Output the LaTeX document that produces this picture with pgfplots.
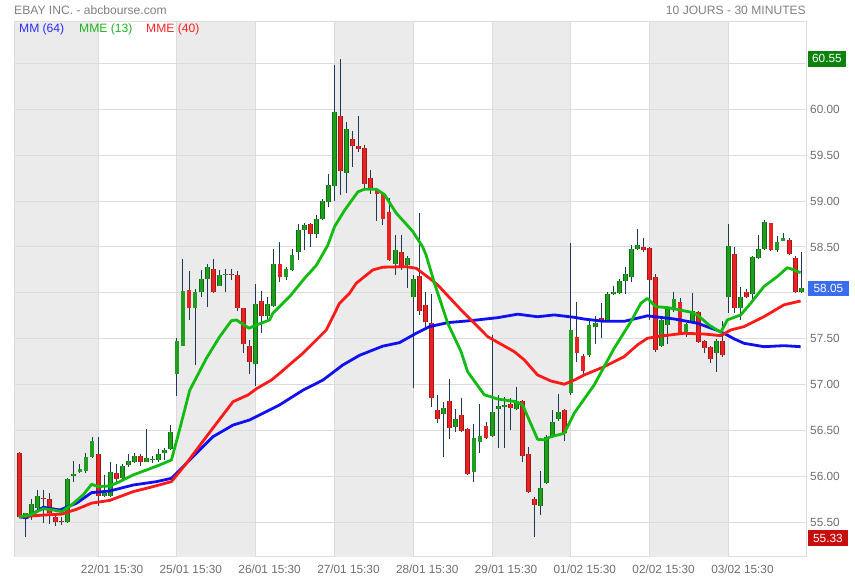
\documentclass[border=0pt]{standalone}
\usepackage{pgfplots}
\pgfplotsset{compat=1.18}
\usepackage{pgfplotstable}
\usepackage{fontspec}
\setmainfont{Liberation Sans}
\definecolor{gridgray}{HTML}{DCDCDC}
\definecolor{band}{HTML}{EBEBEB}
\definecolor{labelgray}{HTML}{6E6E6E}
\definecolor{titlegray}{HTML}{808080}
\definecolor{wick}{HTML}{1C3A57}
\definecolor{upfill}{HTML}{1F9E1F}
\definecolor{upborder}{HTML}{0D6E0D}
\definecolor{dnfill}{HTML}{E82323}
\definecolor{dnborder}{HTML}{A81414}
\definecolor{mablue}{HTML}{1010F0}
\definecolor{emagreen}{HTML}{11BB11}
\definecolor{emared}{HTML}{FF1A1A}
\definecolor{legblue}{HTML}{2B2BFF}
\definecolor{leggreen}{HTML}{1DB51D}
\definecolor{legred}{HTML}{FF2020}
\definecolor{boxgreen}{HTML}{0B840B}
\definecolor{boxblue}{HTML}{3A6CF0}
\definecolor{boxred}{HTML}{C80D0D}

\pgfplotstableread{
i o h l c
0 56.26 56.27 55.55 55.56
1 55.58 55.60 55.34 55.60
2 55.59 55.76 55.53 55.70
3 55.66 55.85 55.64 55.79
4 55.77 55.85 55.49 55.75
5 55.76 55.82 55.48 55.60
6 55.56 55.60 55.46 55.50
7 55.52 55.56 55.47 55.50
8 55.50 55.98 55.49 55.97
9 56.01 56.17 55.94 56.03
10 56.05 56.14 56.04 56.08
11 56.06 56.26 56.04 56.21
12 56.21 56.43 56.20 56.39
13 56.25 56.43 55.68 55.79
14 55.79 56.02 55.78 55.82
15 55.79 56.16 55.78 56.05
16 56.04 56.14 55.94 55.97
17 55.98 56.14 55.95 56.11
18 56.12 56.24 56.10 56.17
19 56.16 56.26 56.15 56.22
20 56.22 56.25 56.11 56.16
21 56.16 56.52 56.16 56.20
22 56.18 56.22 56.15 56.19
23 56.18 56.30 56.16 56.25
24 56.26 56.31 56.18 56.29
25 56.30 56.56 56.29 56.48
26 57.12 57.51 56.88 57.48
27 57.42 58.37 57.42 58.02
28 58.03 58.24 57.70 57.83
29 57.83 58.04 57.21 58.01
30 58.01 58.25 57.96 58.15
31 58.15 58.31 57.85 58.28
32 58.26 58.37 58.00 58.01
33 58.08 58.25 58.07 58.19
34 58.20 58.26 58.01 58.21
35 58.21 58.26 58.14 58.20
36 58.20 58.24 57.80 57.84
37 57.83 57.84 57.34 57.44
38 57.42 57.49 57.12 57.25
39 57.22 58.10 56.99 57.88
40 57.91 58.02 57.56 57.75
41 57.75 57.96 57.70 57.88
42 57.86 58.48 57.85 58.31
43 58.32 58.55 58.12 58.17
44 58.17 58.28 58.14 58.26
45 58.25 58.48 58.24 58.41
46 58.44 58.75 58.36 58.68
47 58.69 58.76 58.47 58.74
48 58.75 58.76 58.50 58.64
49 58.64 58.85 58.60 58.81
50 58.81 59.02 58.79 59.00
51 58.99 59.29 58.94 59.18
52 59.16 60.48 59.00 59.97
53 59.93 60.55 59.07 59.33
54 59.31 59.86 59.09 59.78
55 59.68 59.76 59.37 59.60
56 59.60 59.93 59.54 59.57
57 59.58 59.61 59.14 59.19
58 59.25 59.34 59.08 59.14
59 59.12 59.14 58.78 59.08
60 59.08 59.08 58.74 58.81
61 58.88 59.03 58.35 58.36
62 58.32 58.63 58.19 58.47
63 58.44 58.63 58.25 58.29
64 58.30 58.40 58.05 58.38
65 57.95 58.20 56.96 58.15
66 58.18 58.87 57.76 57.80
67 57.87 58.01 57.63 57.68
68 57.67 57.99 56.76 56.85
69 56.72 56.89 56.58 56.63
70 56.68 56.81 56.21 56.75
71 56.82 57.06 56.41 56.53
72 56.54 56.74 56.48 56.63
73 56.67 56.86 56.49 56.50
74 56.52 56.53 56.02 56.03
75 56.05 56.57 55.94 56.42
76 56.38 56.79 56.26 56.44
77 56.55 56.59 56.41 56.42
78 56.44 57.54 56.43 56.70
79 56.74 56.89 56.31 56.77
80 56.76 56.87 56.31 56.78
81 56.79 56.85 56.51 56.75
82 56.74 56.97 56.72 56.82
83 56.82 56.83 56.16 56.22
84 56.25 56.32 55.82 55.83
85 55.75 55.78 55.34 55.69
86 55.68 56.06 55.58 55.87
87 55.93 56.45 55.92 56.43
88 56.43 56.72 56.42 56.59
89 56.63 56.90 56.60 56.70
90 56.72 56.73 56.39 56.47
91 56.91 58.54 56.89 57.60
92 57.52 57.90 57.25 57.35
93 57.31 57.33 57.11 57.15
94 57.32 57.69 57.30 57.65
95 57.63 57.75 57.44 57.67
96 57.73 57.89 57.51 57.70
97 57.71 58.01 57.70 57.99
98 57.99 58.07 57.98 58.01
99 58.00 58.15 57.99 58.13
100 58.13 58.28 57.99 58.21
101 58.17 58.52 58.12 58.48
102 58.48 58.70 58.47 58.52
103 58.50 58.60 58.45 58.47
104 58.49 58.50 57.70 58.14
105 58.17 58.21 57.36 57.38
106 57.42 57.74 57.41 57.70
107 57.65 57.86 57.44 57.84
108 57.81 58.01 57.79 57.93
109 57.90 57.94 57.55 57.56
110 57.57 57.67 57.52 57.66
111 57.68 58.00 57.67 57.80
112 57.79 57.80 57.46 57.47
113 57.48 57.49 57.34 57.40
114 57.41 57.42 57.24 57.28
115 57.34 57.50 57.14 57.48
116 57.48 57.69 57.30 57.32
117 57.95 58.75 57.78 58.51
118 58.42 58.50 57.78 57.84
119 57.84 58.06 57.70 57.95
120 58.01 58.04 57.94 57.95
121 57.99 58.40 57.89 58.39
122 58.38 58.63 58.37 58.48
123 58.48 58.79 58.47 58.77
124 58.76 58.76 58.46 58.47
125 58.47 58.62 58.45 58.55
126 58.57 58.65 58.56 58.60
127 58.58 58.60 58.41 58.42
128 58.38 58.40 58.00 58.01
129 58.01 58.45 58.00 58.05
}\candles

\pgfplotstableread{
i v
0 55.56
1.22 55.55
3.95 55.665
6.71 55.635
9.46 55.71
11.93 55.824
14.94 55.842
18.78 55.907
22.64 55.944
25.1 55.98
27.58 56.144
31.96 56.434
35.26 56.56
38.0 56.616
42.95 56.78
46.79 56.94
50.08 57.05
53.38 57.215
56.13 57.32
59.97 57.42
62.72 57.458
65.47 57.56
67.66 57.632
70.68 57.676
74.53 57.698
78.91 57.73
82.21 57.768
85.5 57.74
88.25 57.76
91.55 57.734
93.19 57.715
96.49 57.69
99.78 57.69
103.62 57.75
108.02 57.716
111.86 57.67
115.72 57.578
117.91 57.50
119.55 57.451
122.85 57.414
126.15 57.425
128.89 57.414
}\mmblue

\pgfplotstableread{
i v
0 55.56
1.76 55.58
3.95 55.65
5.6 55.635
6.99 55.617
8.63 55.69
10.54 55.80
11.93 55.915
13.0 55.89
14.94 55.897
16.59 55.944
18.78 56.017
20.99 56.071
23.18 56.126
25.1 56.18
26.2 56.45
28.12 56.94
30.87 57.288
33.06 57.523
34.99 57.697
35.82 57.705
37.89 57.615
39.11 57.65
41.3 57.705
41.84 57.78
44.6 57.96
47.07 58.16
49.0 58.30
50.9 58.52
52.0 58.72
53.66 58.90
55.85 59.10
56.95 59.13
58.88 59.13
60.25 59.07
62.17 58.87
64.9 58.67
66.56 58.50
67.12 58.41
68.49 58.105
70.68 57.67
72.88 57.36
73.97 57.14
76.72 56.89
78.91 56.844
81.94 56.815
83.03 56.78
85.5 56.405
86.6 56.40
87.71 56.434
89.9 56.47
91.55 56.69
94.84 56.997
98.14 57.397
100.89 57.687
102.54 57.887
103.62 57.94
105.0 57.85
106.92 57.84
108.85 57.816
110.77 57.79
111.86 57.76
113.79 57.65
115.72 57.57
116.8 57.705
119.01 57.76
120.66 57.887
122.85 58.07
125.04 58.177
126.69 58.275
127.79 58.25
128.89 58.22
}\emagreen

\pgfplotstableread{
i v
0 55.56
3.95 55.58
6.99 55.59
9.46 55.643
11.93 55.71
14.94 55.74
18.78 55.835
22.08 55.89
25.1 55.944
27.58 56.144
30.87 56.434
35.26 56.815
37.73 56.888
39.21 56.96
41.58 57.05
42.95 57.124
45.14 57.25
46.79 57.342
48.99 57.487
50.64 57.596
52.83 57.887
54.48 57.996
55.58 58.105
58.32 58.25
59.97 58.28
63.82 58.286
65.47 58.268
67.66 58.16
69.03 58.086
72.88 57.814
75.07 57.669
77.27 57.523
81.66 57.36
83.31 57.27
85.5 57.106
87.71 57.04
89.9 57.005
91.55 57.05
93.19 57.106
96.49 57.196
99.78 57.305
101.98 57.433
103.62 57.506
106.37 57.534
109.67 57.56
112.97 57.552
115.72 57.534
117.36 57.596
119.55 57.632
122.85 57.741
126.15 57.87
128.89 57.912
}\emared

\begin{document}
\begin{tikzpicture}[x=1pt,y=1pt]
\path[use as bounding box] (0,0) rectangle (855,580);
\begin{axis}[
  at={(15pt,23pt)}, anchor=south west,
  scale only axis, width=791.7pt, height=535pt,
  xmin=-0.71, xmax=129.9, ymin=55.123, ymax=60.951,
  clip=false,
  axis line style={draw=gridgray, line width=1pt},
  major tick length=0pt,
  xtick={15.3,28.3,41.3,54.3,67.3,80.3,93.3,106.3,119.3},
  xticklabels={22/01 15:30,25/01 15:30,26/01 15:30,27/01 15:30,28/01 15:30,29/01 15:30,01/02 15:30,02/02 15:30,03/02 15:30},
  xticklabel style={yshift=-4pt},
  ytick={55.5,56,56.5,57,57.5,58.5,59,59.5,60},
  yticklabels={55.50,56.00,56.50,57.00,57.50,58.50,59.00,59.50,60.00},
  yticklabel pos=right,
  tick label style={font=\fontsize{11.8}{14}\selectfont, text=labelgray},
]
% day bands
\addplot[fill=band, draw=none] coordinates {(-0.71,55.123) (13,55.123) (13,60.951) (-0.71,60.951)} -- cycle;
\addplot[fill=band, draw=none] coordinates {(26,55.123) (39,55.123) (39,60.951) (26,60.951)} -- cycle;
\addplot[fill=band, draw=none] coordinates {(52,55.123) (65,55.123) (65,60.951) (52,60.951)} -- cycle;
\addplot[fill=band, draw=none] coordinates {(78,55.123) (91,55.123) (91,60.951) (78,60.951)} -- cycle;
\addplot[fill=band, draw=none] coordinates {(104,55.123) (117,55.123) (117,60.951) (104,60.951)} -- cycle;

% grid lines
\addplot[gridgray, line width=1pt, unbounded coords=jump] coordinates {
(-0.71,55.5) (129.9,55.5) (nan,nan)
(-0.71,56) (129.9,56) (nan,nan)
(-0.71,56.5) (129.9,56.5) (nan,nan)
(-0.71,57) (129.9,57) (nan,nan)
(-0.71,57.5) (129.9,57.5) (nan,nan)
(-0.71,58) (129.9,58) (nan,nan)
(-0.71,58.5) (129.9,58.5) (nan,nan)
(-0.71,59) (129.9,59) (nan,nan)
(-0.71,59.5) (129.9,59.5) (nan,nan)
(-0.71,60) (129.9,60) (nan,nan)
(-0.71,60.5) (129.9,60.5) (nan,nan)
(13,55.123) (13,60.951) (nan,nan)
(26,55.123) (26,60.951) (nan,nan)
(39,55.123) (39,60.951) (nan,nan)
(52,55.123) (52,60.951) (nan,nan)
(65,55.123) (65,60.951) (nan,nan)
(78,55.123) (78,60.951) (nan,nan)
(91,55.123) (91,60.951) (nan,nan)
(104,55.123) (104,60.951) (nan,nan)
(117,55.123) (117,60.951)
};

% wicks
\addplot[draw=none, mark=none,
  error bars/.cd, y dir=both, y explicit, error mark=none,
  error bar style={draw=wick, line width=1pt}]
  table[x=i, y=c, y error plus expr=\thisrow{h}-\thisrow{c}, y error minus expr=\thisrow{c}-\thisrow{l}] {\candles};

% up bodies
\addplot[draw=none, mark=none, restrict expr to domain={\thisrow{c}-\thisrow{o}}{0:10},
  error bars/.cd, y dir=plus, y explicit, error mark=none,
  error bar style={draw=upborder, line width=4.8pt}]
  table[x=i, y=o, y error plus expr=\thisrow{c}-\thisrow{o}] {\candles};
\addplot[draw=none, mark=none, restrict expr to domain={\thisrow{c}-\thisrow{o}}{0:10},
  error bars/.cd, y dir=plus, y explicit, error mark=none,
  error bar style={draw=upfill, line width=3.2pt}]
  table[x=i, y=o, y error plus expr=\thisrow{c}-\thisrow{o}] {\candles};
% down bodies
\addplot[draw=none, mark=none, restrict expr to domain={\thisrow{o}-\thisrow{c}}{0.0001:10},
  error bars/.cd, y dir=plus, y explicit, error mark=none,
  error bar style={draw=dnborder, line width=4.8pt}]
  table[x=i, y=c, y error plus expr=\thisrow{o}-\thisrow{c}] {\candles};
\addplot[draw=none, mark=none, restrict expr to domain={\thisrow{o}-\thisrow{c}}{0.0001:10},
  error bars/.cd, y dir=plus, y explicit, error mark=none,
  error bar style={draw=dnfill, line width=3.2pt}]
  table[x=i, y=c, y error plus expr=\thisrow{o}-\thisrow{c}] {\candles};

% averages
\addplot[mablue, line width=2.8pt, line join=round, no marks] table[x=i, y=v] {\mmblue};
\addplot[emared, line width=2.8pt, line join=round, no marks] table[x=i, y=v] {\emared};
\addplot[emagreen, line width=2.8pt, line join=round, no marks] table[x=i, y=v] {\emagreen};

% price boxes
\node[anchor=west, fill=boxgreen, text=white, font=\fontsize{11.8}{14}\selectfont, inner sep=2pt, minimum height=16pt, minimum width=38pt, xshift=1pt] at (axis cs:129.9,60.55) {60.55};
\node[anchor=west, fill=boxblue, text=white, font=\fontsize{11.8}{14}\selectfont, inner sep=2pt, minimum height=15pt, minimum width=41pt, xshift=1pt] at (axis cs:129.9,58.05) {58.05};
\node[anchor=west, fill=boxred, text=white, font=\fontsize{11.8}{14}\selectfont, inner sep=2pt, minimum height=16pt, minimum width=40pt, xshift=1pt] at (axis cs:129.9,55.33) {55.33};
\end{axis}
\node[anchor=west, inner sep=0pt, text=titlegray, font=\fontsize{12.1}{14}\selectfont] at (14,570) {EBAY INC. - abcbourse.com};
\node[anchor=east, inner sep=0pt, text=titlegray, font=\fontsize{12.1}{14}\selectfont] at (806,570) {10 JOURS - 30 MINUTES};
\node[anchor=west, inner sep=0pt, text=legblue, font=\fontsize{12.1}{14}\selectfont] at (19,551) {MM (64)};
\node[anchor=west, inner sep=0pt, text=leggreen, font=\fontsize{12.1}{14}\selectfont] at (79,551) {MME (13)};
\node[anchor=west, inner sep=0pt, text=legred, font=\fontsize{12.1}{14}\selectfont] at (146,551) {MME (40)};
\end{tikzpicture}
\end{document}
